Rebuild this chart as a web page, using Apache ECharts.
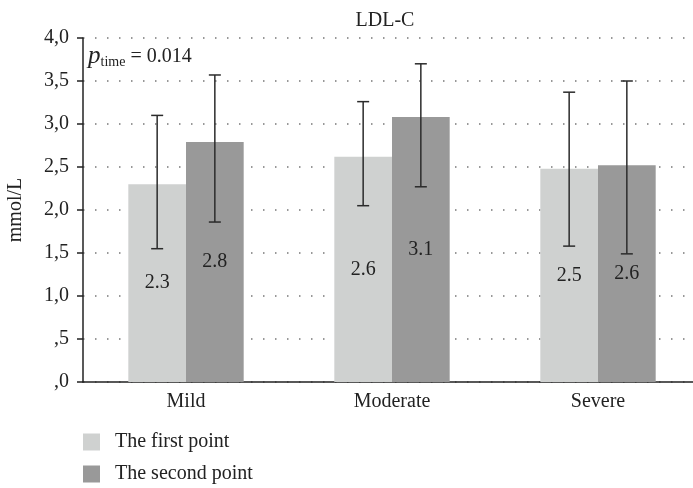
<!DOCTYPE html>
<html>
<head>
<meta charset="utf-8">
<script src="https://cdn.jsdelivr.net/npm/echarts@6/dist/echarts.min.js"></script>
<style>
  html, body { margin: 0; padding: 0; background: #fff; }
  #main { width: 693px; height: 488px; }
</style>
</head>
<body>
<div id="main"></div>
<script>
var categories = ['Mild', 'Moderate', 'Severe'];
var seriesNames = ['The first point', 'The second point'];

// bar heights (mmol/L)
var firstValues = [2.30, 2.62, 2.48];
var secondValues = [2.79, 3.08, 2.52];
// labels printed inside the bars
var firstLabels = ['2.3', '2.6', '2.5'];
var secondLabels = ['2.8', '3.1', '2.6'];
// error bar ends [low, high]
var firstErr = [[1.55, 3.10], [2.05, 3.26], [1.58, 3.37]];
var secondErr = [[1.86, 3.57], [2.27, 3.70], [1.49, 3.50]];

var font = '"Liberation Serif", "DejaVu Serif", serif';
var barRatio = 0.28;

function tickLabel(v) {
	var s = v.toFixed(1).replace('.', ',');
	if (v < 1) s = s.substring(1);
	return s;
}

function errData(list) {
	return list.map(function (d, i) { return [i, d[0], d[1]]; });
}

function errSeries(list, side) {
	return {
		type: 'custom',
		silent: true,
		z: 5,
		renderItem: function (params, api) {
			var band = api.size([1, 0])[0];
			var off = side * band * barRatio / 2;
			var lo = api.coord([api.value(0), api.value(1)]);
			var hi = api.coord([api.value(0), api.value(2)]);
			var x = lo[0] + off;
			var cap = 6;
			var st = { stroke: '#2b2b2b', lineWidth: 1.5 };
			return {
				type: 'group',
				children: [
					{ type: 'line', shape: { x1: x, y1: lo[1], x2: x, y2: hi[1] }, style: st },
					{ type: 'line', shape: { x1: x - cap, y1: hi[1], x2: x + cap, y2: hi[1] }, style: st },
					{ type: 'line', shape: { x1: x - cap, y1: lo[1], x2: x + cap, y2: lo[1] }, style: st }
				]
			};
		},
		encode: { x: 0, y: [1, 2] },
		data: errData(list)
	};
}

function barSeries(name, values, labels, color) {
	return {
		name: name,
		type: 'bar',
		barWidth: (barRatio * 100) + '%',
		barGap: '0%',
		itemStyle: { color: color },
		label: {
			show: true,
			position: 'inside',
			fontFamily: font,
			fontSize: 20,
			color: '#222',
			formatter: function (p) { return labels[p.dataIndex]; }
		},
		data: values
	};
}

var chart = echarts.init(document.getElementById('main'));

var option = {
	backgroundColor: '#fff',
	animation: false,
	title: {
		text: 'LDL-C',
		left: 385,
		top: 11,
		textAlign: 'center',
		padding: 0,
		textStyle: { fontFamily: font, fontSize: 20, fontWeight: 'normal', color: '#222' }
	},
	legend: {
		data: seriesNames,
		orient: 'vertical',
		left: 83,
		top: 432,
		height: 56,
		padding: 0,
		itemWidth: 17,
		itemHeight: 17,
		itemGap: 12,
		icon: 'rect',
		textStyle: { fontFamily: font, fontSize: 20, color: '#222', padding: [0, 0, 0, 10] }
	},
	grid: { left: 83, top: 38, width: 618, height: 344, containLabel: false, outerBoundsMode: 'none' },
	graphic: [{
		type: 'text',
		left: 88,
		top: 44,
		style: {
			text: '{p|p}{s|time}{t| = 0.014}',
			rich: {
				p: { fontFamily: font, fontStyle: 'italic', fontSize: 25, fill: '#222' },
				s: { fontFamily: font, fontSize: 14, fill: '#222', verticalAlign: 'bottom', padding: [10, 0, 0, 0] },
				t: { fontFamily: font, fontSize: 20, fill: '#222' }
			}
		}
	}],
	xAxis: {
		type: 'category',
		data: categories,
		axisLine: { lineStyle: { color: '#222', width: 1.5 } },
		axisTick: { show: false },
		axisLabel: { fontFamily: font, fontSize: 20, color: '#222', margin: 10 }
	},
	yAxis: {
		type: 'value',
		min: 0,
		max: 4,
		interval: 0.5,
		name: 'mmol/L',
		nameLocation: 'middle',
		nameGap: 57,
		nameRotate: 90,
		nameTextStyle: { fontFamily: font, fontSize: 20, color: '#222' },
		axisLine: { show: true, lineStyle: { color: '#222', width: 1.5 } },
		axisTick: { show: true, length: 6, lineStyle: { color: '#222', width: 1.5 } },
		axisLabel: {
			fontFamily: font, fontSize: 20, color: '#222', margin: 14,
			formatter: function (v) { return tickLabel(v); }
		},
		splitLine: { show: true, lineStyle: { color: '#777', width: 1.5, type: [1.5, 10.5] } }
	},
	series: [
		barSeries(seriesNames[0], firstValues, firstLabels, '#cfd1d0'),
		barSeries(seriesNames[1], secondValues, secondLabels, '#999999'),
		errSeries(firstErr, -1),
		errSeries(secondErr, 1)
	]
};

chart.setOption(option);
</script>
</body>
</html>
